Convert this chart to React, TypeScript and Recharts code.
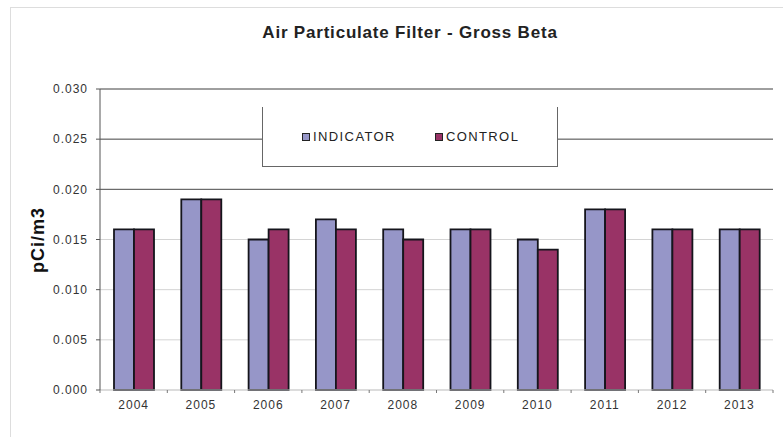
import { Bar, BarChart, CartesianGrid, Legend, ReferenceLine, XAxis, YAxis } from 'recharts';

const years = ['2004', '2005', '2006', '2007', '2008', '2009', '2010', '2011', '2012', '2013'];
const indicator = [0.016, 0.019, 0.015, 0.017, 0.016, 0.016, 0.015, 0.018, 0.016, 0.016];
const control = [0.016, 0.019, 0.016, 0.016, 0.015, 0.016, 0.014, 0.018, 0.016, 0.016];
const seriesNames = ['INDICATOR', 'CONTROL'];
const yTicks = [0, 0.005, 0.01, 0.015, 0.02, 0.025, 0.03];
const darkGrid = [0.02, 0.025, 0.03];

const data = years.map((year, i) => ({ year, indicator: indicator[i], control: control[i] }));

const FONT = '"Liberation Sans", Arial, sans-serif';

function YearTick(props: any) {
  const { x, y, payload, index, width } = props;
  const half = payload?.offset ?? width / years.length / 2;
  const last = index === years.length - 1;
  return (
    <g>
      <line x1={x - half} x2={x - half} y1={y} y2={y + 3} stroke="#777" />
      {last && <line x1={x + half} x2={x + half} y1={y} y2={y + 3} stroke="#777" />}
      <text
        x={x}
        y={y + 19}
        textAnchor="middle"
        fontSize={12}
        letterSpacing={1}
        fill="#333"
        fontFamily={FONT}
      >
        {payload.value}
      </text>
    </g>
  );
}

function LegendBox(props: any) {
  const items = [...(props.payload ?? [])].sort(
    (a: any, b: any) => seriesNames.indexOf(a.value) - seriesNames.indexOf(b.value),
  );
  return (
    <div
      style={{
        width: 296,
        height: 60,
        boxSizing: 'border-box',
        background: '#fff',
        borderLeft: '1px solid #666',
        borderRight: '1px solid #666',
        borderBottom: '1px solid #666',
        display: 'flex',
        alignItems: 'center',
        paddingLeft: 39,
        gap: 39,
        fontFamily: FONT,
      }}
    >
      {items.map((it: any) => (
        <div key={it.value} style={{ display: 'flex', alignItems: 'center' }}>
          <span
            style={{
              width: 6,
              height: 6,
              background: it.color,
              border: '1px solid #222',
              marginRight: 3,
              display: 'inline-block',
            }}
          />
          <span style={{ fontSize: 13, letterSpacing: 1.4, color: '#222' }}>{it.value}</span>
        </div>
      ))}
    </div>
  );
}

export default function App() {
  return (
    <div
      style={{
        position: 'fixed',
        left: 0,
        top: 0,
        width: 783,
        height: 437,
        overflow: 'hidden',
        background: '#fff',
      }}
    >
      <div
        style={{
          position: 'absolute',
          left: 10,
          top: 7,
          width: 900,
          height: 600,
          border: '1px solid #ddd',
        }}
      />
      <div
        style={{
          position: 'absolute',
          left: 110,
          top: 24,
          width: 600,
          textAlign: 'center',
          fontFamily: FONT,
          fontWeight: 'bold',
          fontSize: 17,
          letterSpacing: 0.8,
          lineHeight: 1,
          color: '#222',
        }}
      >
        Air Particulate Filter - Gross Beta
      </div>
      <div
        style={{
          position: 'absolute',
          left: 38,
          top: 240,
          transform: 'translate(-50%, -50%) rotate(-90deg)',
          fontFamily: FONT,
          fontWeight: 'bold',
          fontSize: 18,
          letterSpacing: 1,
          lineHeight: 1,
          whiteSpace: 'nowrap',
          color: '#111',
        }}
      >
        pCi/m3
      </div>
      <div style={{ position: 'absolute', left: 0, top: 0 }}>
        <BarChart
          width={783}
          height={437}
          data={data}
          margin={{ top: 89, right: 10, bottom: 17, left: 40 }}
          barSize={20}
          barGap={0}
        >
          <CartesianGrid vertical={false} stroke="#d4d4d4" yAxisId="v" />
          <XAxis
            dataKey="year"
            height={30}
            tickSize={0}
            tickMargin={0}
            axisLine={{ stroke: '#cfcfcf' }}
            tickLine={false}
            tick={<YearTick />}
            interval={0}
          />
          <YAxis
            yAxisId="v"
            width={60}
            domain={[0, 0.03]}
            ticks={yTicks}
            tickFormatter={(v: number) => v.toFixed(3)}
            tickSize={4}
            tickMargin={8}
            axisLine={{ stroke: '#555' }}
            tickLine={{ stroke: '#555' }}
            tick={{ fontSize: 12, fill: '#333', fontFamily: FONT, letterSpacing: 1 }}
          />
          <YAxis
            yAxisId="r"
            orientation="right"
            width={0}
            domain={[0, 1]}
            tick={false}
            tickLine={false}
            axisLine={{ stroke: '#777' }}
          />
          {darkGrid.map((v) => (
            <ReferenceLine key={v} yAxisId="v" y={v} stroke="#555" />
          ))}
          <Legend
            layout="horizontal"
            verticalAlign="middle"
            align="center"
            wrapperStyle={{ left: 262, top: 107, width: 296, height: 60 }}
            content={<LegendBox />}
          />
          <Bar
            yAxisId="v"
            dataKey="indicator"
            name="INDICATOR"
            fill="#9696c8"
            stroke="#15151c"
            strokeWidth={1.8}
            isAnimationActive={false}
          />
          <Bar
            yAxisId="v"
            dataKey="control"
            name="CONTROL"
            fill="#993366"
            stroke="#15151c"
            strokeWidth={1.8}
            isAnimationActive={false}
          />
        </BarChart>
      </div>
    </div>
  );
}
